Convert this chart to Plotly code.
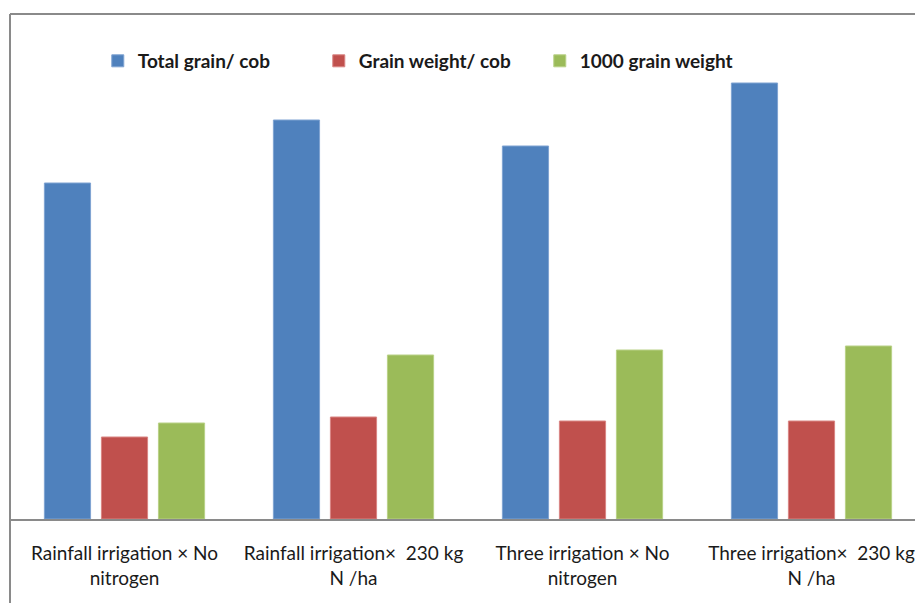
import plotly.graph_objects as go

categories = [
    "Rainfall irrigation × No<br>nitrogen",
    "Rainfall irrigation×  230 kg<br>N /ha",
    "Three irrigation × No<br>nitrogen",
    "Three irrigation×  230 kg<br>N /ha",
]
total_grain = [336, 399, 373, 436]
grain_weight = [82, 102, 98, 98]
thousand_grain = [96, 164, 169, 173]

series = [
    ("Total grain/ cob", total_grain, "#4F81BD", "#7FA3D2"),
    ("Grain weight/ cob", grain_weight, "#C0504D", "#D98583"),
    ("1000 grain weight", thousand_grain, "#9BBB59", "#B9D187"),
]

fig = go.Figure()
for name, vals, col, edge in series:
    fig.add_trace(go.Bar(
        x=categories, y=vals, name=name,
        marker=dict(color=col, line=dict(color=edge, width=1)),
    ))

W, H = 915, 603
L, T, B = 10, 14, 84
plot_h = H - T - B

fig.update_layout(
    width=W, height=H,
    margin=dict(l=L, r=0, t=T, b=B, pad=0),
    paper_bgcolor="white", plot_bgcolor="white",
    barmode="group", bargap=0.253, bargroupgap=0.19,
    font=dict(family="Lato, sans-serif", color="#1a1a1a"),
    showlegend=True,
    legend=dict(
        orientation="h", x=0.097, y=0.907, xanchor="left", yanchor="middle",
        font=dict(size=19, family="Lato, sans-serif", color="#1a1a1a", weight="bold"),
        entrywidth=176, entrywidthmode="pixels", itemwidth=30,
        bgcolor="rgba(0,0,0,0)", traceorder="normal",
    ),
    xaxis=dict(
        range=[-0.5, 3.452], showgrid=False, showline=True,
        linecolor="#8a8a8a", linewidth=2, ticks="",
        ticklabelstandoff=16,
        tickfont=dict(size=19, family="Lato, sans-serif", color="#1a1a1a"),
        fixedrange=True,
    ),
    yaxis=dict(
        range=[0, plot_h], showgrid=False, showticklabels=False,
        zeroline=False, showline=False, fixedrange=True,
    ),
)

# chart frame: top edge and left edge running past the plot area
fig.add_shape(type="line", xref="paper", yref="paper",
              x0=0, x1=1.02, y0=1, y1=1,
              line=dict(color="#8a8a8a", width=2))
fig.add_shape(type="line", xref="paper", yref="paper",
              x0=0, x1=0, y0=1, y1=-B / plot_h - 0.05,
              line=dict(color="#8a8a8a", width=2))

fig.write_html("out.html")
